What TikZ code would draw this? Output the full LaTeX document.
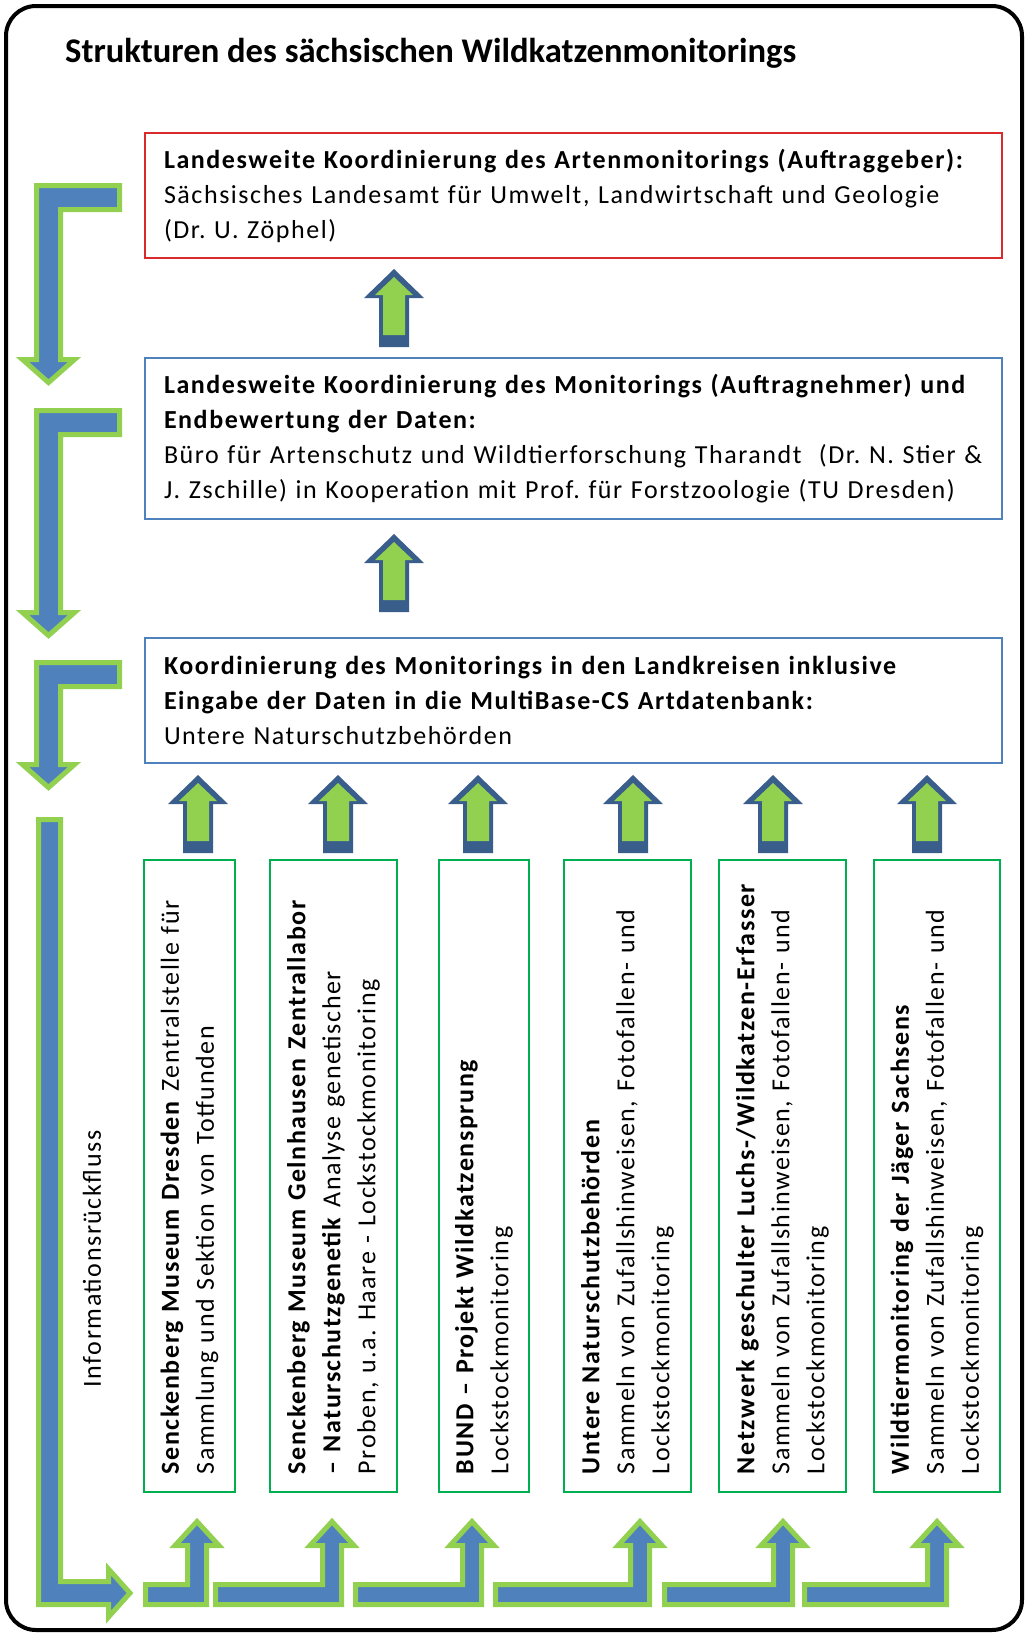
\documentclass[tikz,border=0pt]{standalone}
\usepackage{fontspec}
\setmainfont{Carlito}[LetterSpace=6]
\newfontfamily\titlefamily{Carlito}
\usepackage{tikz}
\usetikzlibrary{positioning, calc}

\definecolor{boxred}{HTML}{D92B2B}
\definecolor{boxblue}{HTML}{4F81BD}
\definecolor{boxgreen}{HTML}{00B050}
\definecolor{arrblue}{HTML}{4F81BD}
\definecolor{arrgreen}{HTML}{92D050}
\definecolor{arrdark}{HTML}{3A5E8C}

\newcommand{\boxfont}{\fontsize{26}{35}\selectfont\frenchspacing}
\newcommand{\titlefont}{\titlefamily\fontsize{34.6}{40}\selectfont\bfseries}

\tikzset{
	topbox/.style={draw, line width=2pt, minimum width=857pt, minimum height=125pt, text width=819pt, inner xsep=19pt, inner ysep=0pt, align=left, anchor=north west},
	sidebox/.style={draw=boxgreen, line width=2pt, rotate=90, minimum width=632pt, text width=596pt, inner xsep=18pt, inner ysep=0pt, align=left},
	bentarrow/.style={fill=arrblue, draw=arrgreen, line width=5pt, line join=miter}
}

\begin{document}
\begin{tikzpicture}[x=1pt, y=-1pt, every node/.style={font=\boxfont}]
	\useasboundingbox (0,0) rectangle (1027,1634);
	
	%//frame and title
	\draw[line width=4pt, rounded corners=30pt] (6,6) rectangle (1022,1630);
	\node[anchor=base west, font=\titlefont, inner sep=0pt] (title) at (65,62) {Strukturen des sächsischen Wildkatzenmonitorings};
	
	%//upper boxes
	\node[topbox, draw=boxred] (auftraggeber) at (144,132) {\textbf{Landesweite Koordinierung des Artenmonitorings (Auftraggeber):}\\
		Sächsisches Landesamt für Umwelt, Landwirtschaft und Geologie\\
		(Dr. U. Zöphel)};
	\node[topbox, draw=boxblue, minimum height=161pt] (auftragnehmer) at (144,357) {\textbf{Landesweite Koordinierung des Monitorings (Auftragnehmer) und}\\
		\textbf{Endbewertung der Daten:}\\
		Büro für Artenschutz und Wildtierforschung Tharandt~~(Dr. N. Stier \&\\
		J. Zschille) in Kooperation mit Prof. für Forstzoologie (TU Dresden)};
	\node[topbox, draw=boxblue] (landkreise) at (144,637) {\textbf{Koordinierung des Monitorings in den Landkreisen inklusive}\\
		\textbf{Eingabe der Daten in die MultiBase-CS Artdatenbank:}\\
		Untere Naturschutzbehörden};
	
	%//lower boxes, rotated
	\node[sidebox, minimum height=91pt] (dresden) at (189.5,1176) {\textbf{Senckenberg Museum Dresden} Zentralstelle für\\
		Sammlung und Sektion von Totfunden};
	\node[sidebox, minimum height=127pt] (gelnhausen) at (333.5,1176) {\textbf{Senckenberg Museum Gelnhausen Zentrallabor}\\
		\textbf{– Naturschutzgenetik} Analyse genetischer\\
		Proben, u.a. Haare - Lockstockmonitoring};
	\node[sidebox, minimum height=90pt] (bund) at (484,1176) {\textbf{BUND – Projekt Wildkatzensprung}\\
		Lockstockmonitoring};
	\node[sidebox, minimum height=127pt] (unb) at (627.5,1176) {\textbf{Untere Naturschutzbehörden}\\
		Sammeln von Zufallshinweisen, Fotofallen- und\\
		Lockstockmonitoring};
	\node[sidebox, minimum height=127pt] (netzwerk) at (782.5,1176) {\textbf{Netzwerk geschulter Luchs-/Wildkatzen-Erfasser}\\
		Sammeln von Zufallshinweisen, Fotofallen- und\\
		Lockstockmonitoring};
	\node[sidebox, minimum height=126pt] (jaeger) at (937,1176) {\textbf{Wildtiermonitoring der Jäger Sachsens}\\
		Sammeln von Zufallshinweisen, Fotofallen- und\\
		Lockstockmonitoring};
	
	\node[rotate=90] (rueckfluss) at (92,1259) {Informationsrückfluss};
	
	%//small up arrows (green with dark border)
	\foreach \c/\t in {394/269, 394/534, 198/775, 338/775, 478/775, 633/775, 773/775, 927/775}
	{
		\fill[arrdark] (\c,\t) -- (\c+30,\t+29) -- (\c+15,\t+29) -- (\c+15,\t+78) -- (\c-15,\t+78) -- (\c-15,\t+29) -- (\c-30,\t+29) -- cycle;
		\fill[arrgreen] (\c,\t+8) -- (\c+19,\t+26) -- (\c+11,\t+26) -- (\c+11,\t+66) -- (\c-11,\t+66) -- (\c-11,\t+26) -- (\c-19,\t+26) -- cycle;
	}
	
	%//bent arrows on the left, pointing down
	\foreach \top/\base in {185.5/359.5, 410.5/612.5, 662.5/764.5}
	\draw[bentarrow] (119.5,\top) -- (36.5,\top) -- (36.5,\base) -- (22.5,\base) -- (48.5,\base+23) -- (74.5,\base) -- (60.5,\base) -- (60.5,\top+24) -- (119.5,\top+24) -- cycle;
	
	%//long arrow, down and to the right
	\draw[bentarrow] (38.5,819.5) -- (38.5,1604.5) -- (108.5,1604.5) -- (108.5,1617) -- (130,1593) -- (108.5,1569) -- (108.5,1581.5) -- (60.5,1581.5) -- (60.5,819.5) -- cycle;
	
	%//bent arrows at the bottom, pointing up
	\foreach \xa/\c in {143/197, 213/332, 353/472, 493/640, 662/783, 802/937}
	\draw[bentarrow] (\xa+2.5,1604.5) -- (\c+9.5,1604.5) -- (\c+9.5,1545.5) -- (\c+22,1545.5) -- (\c,1521.5) -- (\c-22,1545.5) -- (\c-9.5,1545.5) -- (\c-9.5,1584.5) -- (\xa+2.5,1584.5) -- cycle;
	
\end{tikzpicture}
\end{document}
